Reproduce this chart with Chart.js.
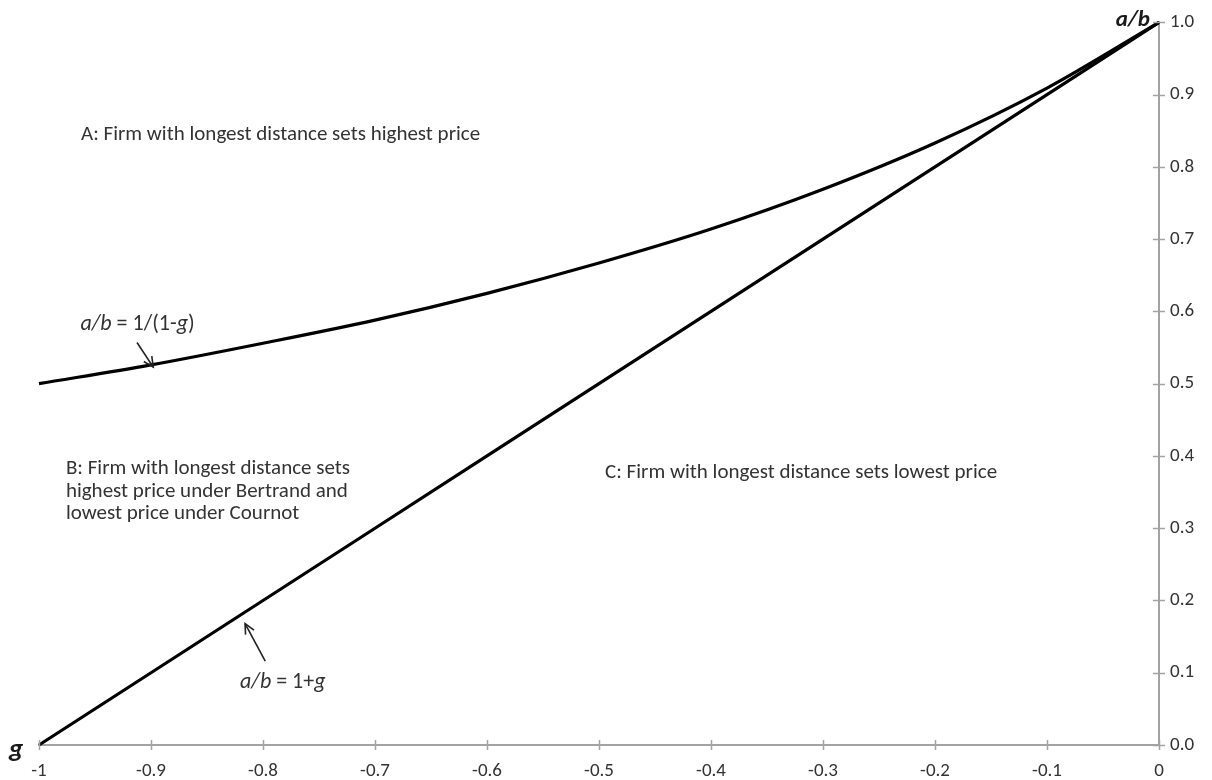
<!DOCTYPE html>
<html>
<head>
<meta charset="utf-8">
<script src="https://cdn.jsdelivr.net/npm/chart.js@4/dist/chart.umd.min.js"></script>
<style>
  html, body { margin: 0; padding: 0; background: #ffffff; }
  #wrap { width: 1212px; height: 780px; }
</style>
</head>
<body>
<div id="wrap"><canvas id="c" width="1212" height="780"></canvas></div>
<script>
// Relative cost parameter g on the horizontal axis
const gValues = [-1, -0.9, -0.8, -0.7, -0.6, -0.5, -0.4, -0.3, -0.2, -0.1, 0];
// Boundary a/b = 1/(1-g)
const upperBoundary = [0.5, 0.526, 0.556, 0.588, 0.625, 0.667, 0.714, 0.769, 0.833, 0.909, 1.0];
// Boundary a/b = 1+g
const lowerBoundary = [0, 0.1, 0.2, 0.3, 0.4, 0.5, 0.6, 0.7, 0.8, 0.9, 1.0];
// Axis ticks
const xTicks = [-1, -0.9, -0.8, -0.7, -0.6, -0.5, -0.4, -0.3, -0.2, -0.1, 0];
const yTicks = [0, 0.1, 0.2, 0.3, 0.4, 0.5, 0.6, 0.7, 0.8, 0.9, 1.0];

const FONT = "Carlito, Calibri, Lato, 'Open Sans', sans-serif";
const TEXT = '#333333';
const AXIS = '#a3a3a3';

// Region descriptions and formula notes, positioned in (g, a/b) units
const regionNotes = [
  { g: -0.9625, v: 0.845, lines: ['A: Firm with longest distance sets highest price'] },
  { g: -0.976, v: 0.382, lines: ['B: Firm with longest distance sets',
                                 'highest price under Bertrand and',
                                 'lowest price under Cournot'] },
  { g: -0.4946, v: 0.377, lines: ['C: Firm with longest distance sets lowest price'] }
];
const formulaNotes = [
  { g: -0.963, v: 0.582, parts: [['a/b', true], [' = 1/(1-', false], ['g', true], [')', false]],
    from: [-0.9125, 0.557], to: [-0.898, 0.523] },
  { g: -0.8205, v: 0.086, parts: [['a/b', true], [' = 1+', false], ['g', true]],
    from: [-0.798, 0.116], to: [-0.816, 0.168] }
];

function toData(xs, ys) { return xs.map((x, i) => ({ x: x, y: ys[i] })); }

const overlay = {
  id: 'overlay',
  afterDraw(chart) {
    const ctx = chart.ctx;
    const sx = chart.scales.x, sy = chart.scales.y;
    const ca = chart.chartArea;
    ctx.save();

    // tick marks crossing both axes
    ctx.strokeStyle = AXIS;
    ctx.lineWidth = 1.5;
    xTicks.forEach(t => {
      const px = Math.round(sx.getPixelForValue(t)) + 0.5;
      ctx.beginPath(); ctx.moveTo(px, ca.bottom - 5); ctx.lineTo(px, ca.bottom + 5); ctx.stroke();
    });
    yTicks.forEach(t => {
      const py = Math.round(sy.getPixelForValue(t)) + 0.5;
      ctx.beginPath(); ctx.moveTo(ca.right - 6, py); ctx.lineTo(ca.right + 6, py); ctx.stroke();
    });

    // axis titles
    ctx.fillStyle = '#1a1a1a';
    ctx.font = "italic bold 23px " + FONT;
    ctx.textAlign = 'right'; ctx.textBaseline = 'middle';
    ctx.fillText('a/b', ca.right - 9, ca.top - 2);
    ctx.font = "italic bold 27px " + FONT;
    ctx.textAlign = 'left';
    ctx.fillText('g', ca.left - 30, ca.bottom + 5);

    // region descriptions
    ctx.fillStyle = TEXT;
    ctx.font = "21px " + FONT;
    ctx.textAlign = 'left'; ctx.textBaseline = 'middle';
    regionNotes.forEach(n => {
      const x0 = sx.getPixelForValue(n.g), y0 = sy.getPixelForValue(n.v);
      n.lines.forEach((s, i) => ctx.fillText(s, x0, y0 + i * 22.5));
    });

    // formula labels with arrows
    formulaNotes.forEach(n => {
      let x = sx.getPixelForValue(n.g);
      const y = sy.getPixelForValue(n.v);
      n.parts.forEach(([s, it]) => {
        ctx.font = (it ? "italic " : "") + "22px " + FONT;
        ctx.fillText(s, x, y);
        x += ctx.measureText(s).width;
      });
      const x1 = sx.getPixelForValue(n.from[0]), y1 = sy.getPixelForValue(n.from[1]);
      const x2 = sx.getPixelForValue(n.to[0]), y2 = sy.getPixelForValue(n.to[1]);
      ctx.strokeStyle = '#222';
      ctx.lineWidth = 1.6;
      ctx.beginPath(); ctx.moveTo(x1, y1); ctx.lineTo(x2, y2); ctx.stroke();
      const a = Math.atan2(y2 - y1, x2 - x1), L = 11, w = 0.45;
      ctx.beginPath();
      ctx.moveTo(x2 - L * Math.cos(a - w), y2 - L * Math.sin(a - w));
      ctx.lineTo(x2, y2);
      ctx.lineTo(x2 - L * Math.cos(a + w), y2 - L * Math.sin(a + w));
      ctx.stroke();
    });
    ctx.restore();
  }
};

new Chart(document.getElementById('c'), {
  type: 'line',
  data: {
    datasets: [
      { data: toData(gValues, upperBoundary), borderColor: '#000', borderWidth: 3.2,
        pointRadius: 0, cubicInterpolationMode: 'monotone', fill: false, clip: false },
      { data: toData(gValues, lowerBoundary), borderColor: '#000', borderWidth: 3.2,
        pointRadius: 0, tension: 0, fill: false, clip: false }
    ]
  },
  options: {
    responsive: false,
    animation: false,
    layout: { padding: { left: 39, top: 15, right: 0, bottom: 0 } },
    plugins: { legend: { display: false }, tooltip: { enabled: false } },
    scales: {
      x: {
        type: 'linear', min: -1, max: 0,
        afterBuildTicks: s => { s.ticks = xTicks.map(v => ({ value: v })); },
        afterFit: s => { s.height = 35; },
        grid: { display: true, drawOnChartArea: false, drawTicks: false },
        border: { display: true, color: AXIS, width: 2 },
        ticks: { padding: 15, color: TEXT, font: { family: FONT, size: 19 },
                 maxRotation: 0, autoSkip: false,
                 callback: v => (v === 0 ? '0' : (Math.abs(v + 1) < 1e-9 ? '-1' : v.toFixed(1))) }
      },
      y: {
        type: 'linear', position: 'right', min: 0, max: 1,
        afterBuildTicks: s => { s.ticks = yTicks.map(v => ({ value: v })); },
        afterFit: s => { s.width = 53; },
        grid: { display: true, drawOnChartArea: false, drawTicks: false },
        border: { display: true, color: AXIS, width: 2 },
        ticks: { padding: 11, color: TEXT, font: { family: FONT, size: 19 },
                 callback: v => v.toFixed(1) }
      }
    }
  },
  plugins: [overlay]
});
</script>
</body>
</html>
